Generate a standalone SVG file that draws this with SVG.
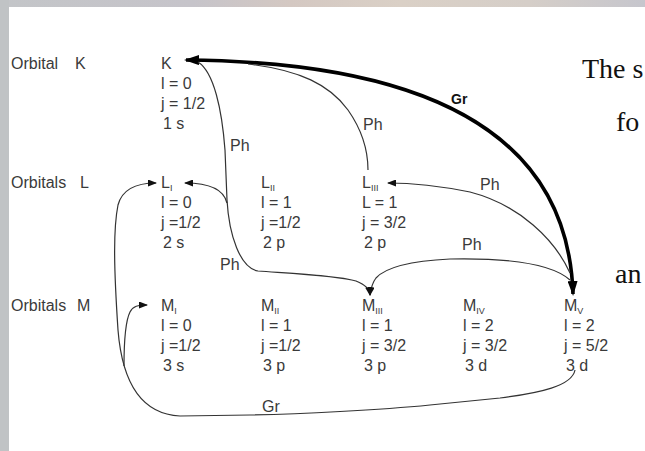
<svg xmlns="http://www.w3.org/2000/svg" width="645" height="451" viewBox="0 0 645 451">
<defs>
<style>
.t{font-family:"Liberation Sans",Arial,sans-serif;font-size:16px;fill:#3a3a3a}
.s{font-size:9px}
.b{font-weight:bold;font-size:14px;fill:#111}
.serif{font-family:"Liberation Serif","Times New Roman",serif;font-size:28px;fill:#111}
.thin{fill:none;stroke:#333;stroke-width:1.2}
.thick{fill:none;stroke:#000;stroke-width:3.6}
</style>
<linearGradient id="top" x1="0" y1="0" x2="1" y2="0">
<stop offset="0" stop-color="#c3c5c8"/>
<stop offset="0.3" stop-color="#c6c4ca"/>
<stop offset="0.45" stop-color="#d4c8c2"/>
<stop offset="0.62" stop-color="#dad0c6"/>
<stop offset="0.82" stop-color="#d5cec8"/>
<stop offset="1" stop-color="#c6c6cd"/>
</linearGradient>
<marker id="ah" viewBox="0 0 9 7" refX="8" refY="3.5" markerWidth="9" markerHeight="7" markerUnits="userSpaceOnUse" orient="auto-start-reverse">
<path d="M0,0 L9,3.5 L0,7 z" fill="#111"/>
</marker>
<marker id="ahb" viewBox="0 0 15 10" refX="13" refY="5" markerWidth="15" markerHeight="10" markerUnits="userSpaceOnUse" orient="auto-start-reverse">
<path d="M0,0 L15,5 L0,10 z" fill="#000"/>
</marker>
</defs>
<rect x="0" y="0" width="645" height="451" fill="#ffffff"/>
<rect x="0" y="0" width="645" height="7" fill="url(#top)"/>
<rect x="0" y="0" width="9" height="451" fill="#c0c3c5"/>

<g id="row-labels">
<text class="t" x="11" y="69">Orbital</text><text class="t" x="75" y="69">K</text>
<text class="t" x="11" y="188">Orbitals</text><text class="t" x="80" y="188">L</text>
<text class="t" x="11" y="311">Orbitals</text><text class="t" x="77" y="311">M</text>
</g>

<g id="node-K">
<text class="t" x="161" y="69">K</text>
<text class="t" x="161" y="89">l = 0</text>
<text class="t" x="161" y="109">j = 1/2</text>
<text class="t" x="163" y="129">1 s</text>
</g>
<g id="node-LI">
<text class="t" x="161" y="188">L<tspan class="s" dy="3">I</tspan></text>
<text class="t" x="161" y="208">l = 0</text>
<text class="t" x="161" y="228">j =1/2</text>
<text class="t" x="163" y="248">2 s</text>
</g>
<g id="node-LII">
<text class="t" x="261" y="188">L<tspan class="s" dy="3">II</tspan></text>
<text class="t" x="261" y="208">l = 1</text>
<text class="t" x="261" y="228">j =1/2</text>
<text class="t" x="263" y="248">2 p</text>
</g>
<g id="node-LIII">
<text class="t" x="362" y="188">L<tspan class="s" dy="3">III</tspan></text>
<text class="t" x="362" y="208">L = 1</text>
<text class="t" x="362" y="228">j = 3/2</text>
<text class="t" x="364" y="248">2 p</text>
</g>
<g id="node-MI">
<text class="t" x="161" y="311">M<tspan class="s" dy="3">I</tspan></text>
<text class="t" x="161" y="331">l = 0</text>
<text class="t" x="161" y="351">j =1/2</text>
<text class="t" x="163" y="371">3 s</text>
</g>
<g id="node-MII">
<text class="t" x="261" y="311">M<tspan class="s" dy="3">II</tspan></text>
<text class="t" x="261" y="331">l = 1</text>
<text class="t" x="261" y="351">j =1/2</text>
<text class="t" x="263" y="371">3 p</text>
</g>
<g id="node-MIII">
<text class="t" x="362" y="311">M<tspan class="s" dy="3">III</tspan></text>
<text class="t" x="362" y="331">l = 1</text>
<text class="t" x="362" y="351">j = 3/2</text>
<text class="t" x="364" y="371">3 p</text>
</g>
<g id="node-MIV">
<text class="t" x="463" y="311">M<tspan class="s" dy="3">IV</tspan></text>
<text class="t" x="463" y="331">l = 2</text>
<text class="t" x="463" y="351">j = 3/2</text>
<text class="t" x="465" y="371">3 d</text>
</g>
<g id="node-MV">
<text class="t" x="564" y="311">M<tspan class="s" dy="3">V</tspan></text>
<text class="t" x="564" y="331">l = 2</text>
<text class="t" x="564" y="351">j = 5/2</text>
<text class="t" x="566" y="371">3 d</text>
</g>

<g id="connectors">
<path class="thick" d="M573,294 C568,135 430,62 186,60" marker-start="url(#ahb)" marker-end="url(#ahb)"/>
<path class="thin" d="M248,64 C300,70 330,85 348,110 C362,130 368,150 368,170"/>
<path class="thin" d="M198,62 C214,72 222,110 225,150 L227,200 C229,235 240,268 258,271 C300,274 340,276 356,281 C366,285 369,289 370,295" marker-end="url(#ah)"/>
<path class="thin" d="M227,203 C224,190 210,183 185,183" marker-end="url(#ah)"/>
<path class="thin" d="M570,273 C555,240 520,205 470,192 C440,186 410,183 388,183" marker-end="url(#ah)"/>
<path class="thin" d="M570,280 C550,262 500,258 450,259 C410,261 385,268 376,278 C372,283 371,288 370,295" marker-end="url(#ah)"/>
<path class="thin" d="M575,370 C572,386 540,393 500,398 L430,405 C380,410 300,414 250,415 L180,416 C140,414 122,380 118,330 C114,270 113,230 118,205 C122,190 135,183 156,183" marker-end="url(#ah)"/>
<path class="thin" d="M124,366 C124,340 126,320 130,312 C133,306 138,305 147,305" marker-end="url(#ah)"/>
</g>

<g id="labels">
<text class="t" x="230" y="151">Ph</text>
<text class="t" x="363" y="130">Ph</text>
<text class="t b" x="451" y="104">Gr</text>
<text class="t" x="480" y="190">Ph</text>
<text class="t" x="220" y="270">Ph</text>
<text class="t" x="462" y="250">Ph</text>
<text class="t" x="262" y="412">Gr</text>
</g>

<g id="side-text">
<text class="serif" x="582" y="78">The s</text>
<text class="serif" x="616" y="131">fo</text>
<text class="serif" x="615" y="283">an</text>
</g>
</svg>
